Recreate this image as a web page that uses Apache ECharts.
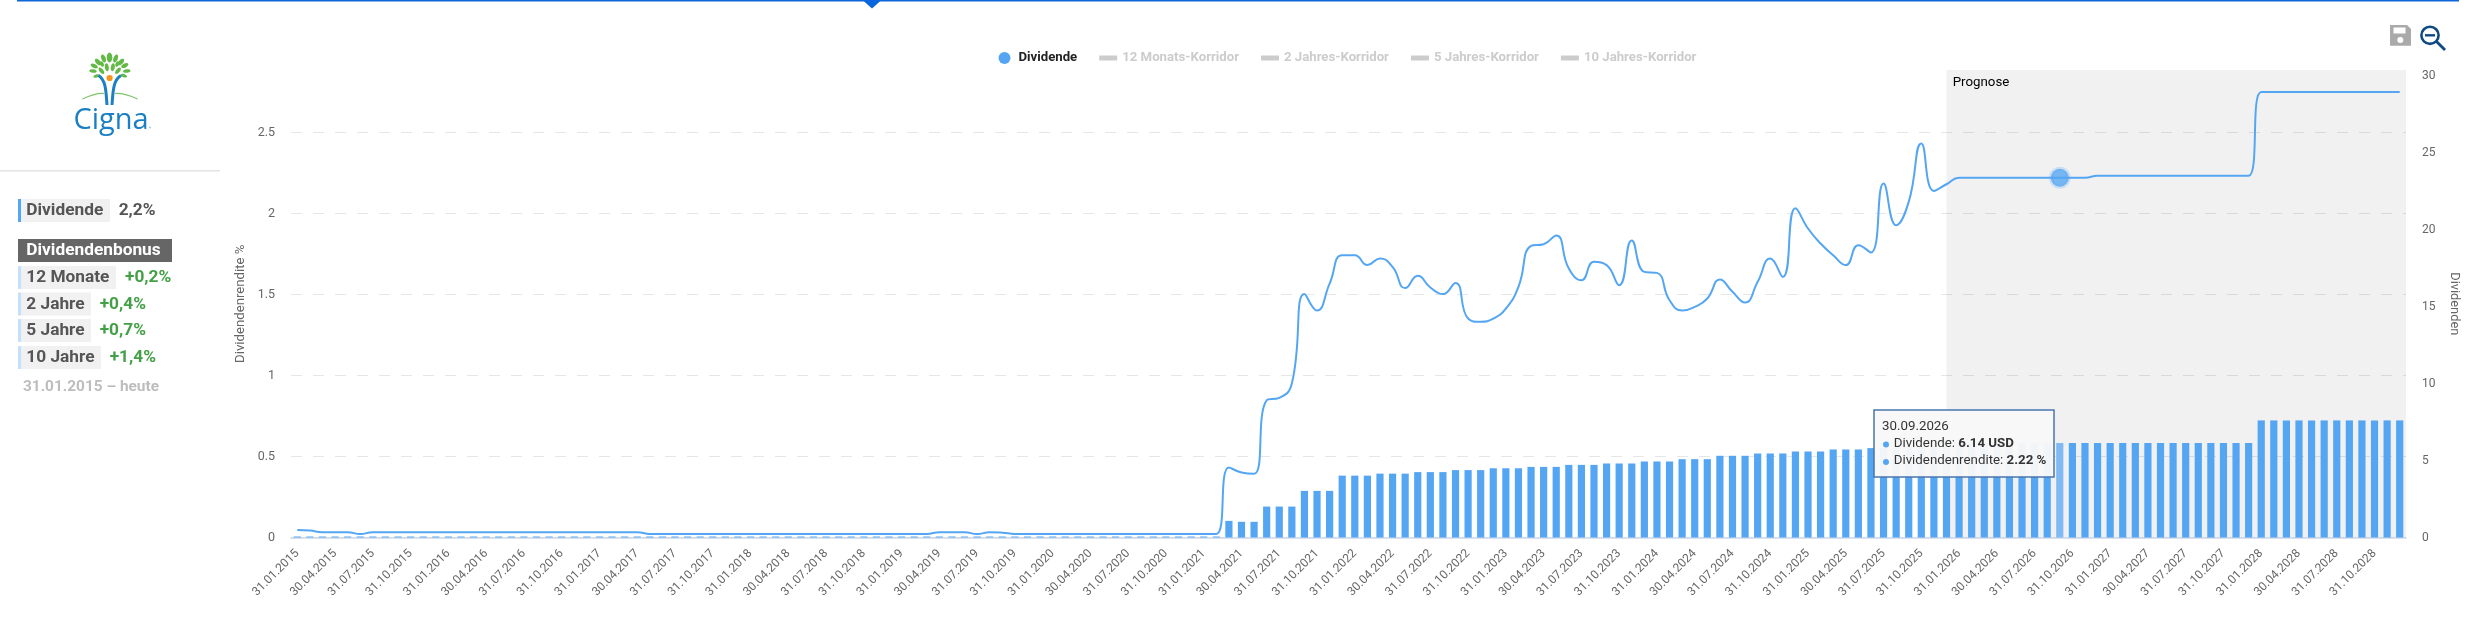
<!DOCTYPE html>
<html lang="de">
<head>
<meta charset="utf-8">
<title>Cigna Dividende</title>
<script src="https://cdn.jsdelivr.net/npm/echarts@6/dist/echarts.min.js"></script>
<style>html,body{margin:0;padding:0;background:#fff}#chart{width:2471px;height:623px}</style>
</head>
<body>
<div id="chart"></div>
<script>
const categories = [
'31.01.2015','28.02.2015','31.03.2015','30.04.2015','31.05.2015','30.06.2015','31.07.2015','31.08.2015','30.09.2015','31.10.2015','30.11.2015','31.12.2015',
'31.01.2016','29.02.2016','31.03.2016','30.04.2016','31.05.2016','30.06.2016','31.07.2016','31.08.2016','30.09.2016','31.10.2016','30.11.2016','31.12.2016',
'31.01.2017','28.02.2017','31.03.2017','30.04.2017','31.05.2017','30.06.2017','31.07.2017','31.08.2017','30.09.2017','31.10.2017','30.11.2017','31.12.2017',
'31.01.2018','28.02.2018','31.03.2018','30.04.2018','31.05.2018','30.06.2018','31.07.2018','31.08.2018','30.09.2018','31.10.2018','30.11.2018','31.12.2018',
'31.01.2019','28.02.2019','31.03.2019','30.04.2019','31.05.2019','30.06.2019','31.07.2019','31.08.2019','30.09.2019','31.10.2019','30.11.2019','31.12.2019',
'31.01.2020','29.02.2020','31.03.2020','30.04.2020','31.05.2020','30.06.2020','31.07.2020','31.08.2020','30.09.2020','31.10.2020','30.11.2020','31.12.2020',
'31.01.2021','28.02.2021','31.03.2021','30.04.2021','31.05.2021','30.06.2021','31.07.2021','31.08.2021','30.09.2021','31.10.2021','30.11.2021','31.12.2021',
'31.01.2022','28.02.2022','31.03.2022','30.04.2022','31.05.2022','30.06.2022','31.07.2022','31.08.2022','30.09.2022','31.10.2022','30.11.2022','31.12.2022',
'31.01.2023','28.02.2023','31.03.2023','30.04.2023','31.05.2023','30.06.2023','31.07.2023','31.08.2023','30.09.2023','31.10.2023','30.11.2023','31.12.2023',
'31.01.2024','29.02.2024','31.03.2024','30.04.2024','31.05.2024','30.06.2024','31.07.2024','31.08.2024','30.09.2024','31.10.2024','30.11.2024','31.12.2024',
'31.01.2025','28.02.2025','31.03.2025','30.04.2025','31.05.2025','30.06.2025','31.07.2025','31.08.2025','30.09.2025','31.10.2025','30.11.2025','31.12.2025',
'31.01.2026','28.02.2026','31.03.2026','30.04.2026','31.05.2026','30.06.2026','31.07.2026','31.08.2026','30.09.2026','31.10.2026','30.11.2026','31.12.2026',
'31.01.2027','28.02.2027','31.03.2027','30.04.2027','31.05.2027','30.06.2027','31.07.2027','31.08.2027','30.09.2027','31.10.2027','30.11.2027','31.12.2027',
'31.01.2028','29.02.2028','31.03.2028','30.04.2028','31.05.2028','30.06.2028','31.07.2028','31.08.2028','30.09.2028','31.10.2028','30.11.2028','31.12.2028'
];
// Dividend per share in USD (bars, right axis)
const dividends = [
.04,.04,.04,.04,.04,.04,.04,.04,.04,.04,.04,.04,
.04,.04,.04,.04,.04,.04,.04,.04,.04,.04,.04,.04,
.04,.04,.04,.04,.04,.04,.04,.04,.04,.04,.04,.04,
.04,.04,.04,.04,.04,.04,.04,.04,.04,.04,.04,.04,
.04,.04,.04,.04,.04,.04,.04,.04,.04,.04,.04,.04,
.04,.04,.04,.04,.04,.04,.04,.04,.04,.04,.04,.04,
.04,.04,1.08,1.02,1.02,2.01,2.01,2.01,3.03,3.03,3.03,4.02,
4.02,4.02,4.15,4.15,4.15,4.25,4.25,4.25,4.38,4.38,4.38,4.5,
4.5,4.5,4.59,4.59,4.59,4.72,4.72,4.72,4.81,4.81,4.81,4.94,
4.94,4.94,5.09,5.09,5.09,5.31,5.31,5.31,5.46,5.46,5.46,5.59,
5.59,5.59,5.72,5.72,5.72,5.81,5.81,5.81,5.95,5.95,5.95,6.14,
6.14,6.14,6.14,6.14,6.14,6.14,6.14,6.14,6.14,6.14,6.14,6.14,
6.14,6.14,6.14,6.14,6.14,6.14,6.14,6.14,6.14,6.14,6.14,6.14,
7.61,7.61,7.61,7.61,7.61,7.61,7.61,7.61,7.61,7.61,7.61,7.61
];
// Dividend yield in percent (line, left axis)
const yields = [
.046,.043,.033,.033,.033,.021,.033,.033,.033,.033,.033,.033,
.033,.033,.033,.033,.033,.033,.033,.033,.033,.033,.033,.033,
.033,.033,.033,.033,.022,.022,.022,.022,.022,.022,.022,.022,
.022,.022,.022,.022,.022,.022,.022,.022,.022,.022,.022,.022,
.022,.022,.022,.033,.033,.033,.021,.033,.03,.022,.022,.022,
.022,.022,.022,.022,.022,.022,.022,.022,.022,.022,.022,.022,
.022,.022,.432,.401,.393,.847,.862,.95,1.502,1.401,1.567,1.742,
1.742,1.681,1.722,1.67,1.539,1.615,1.543,1.502,1.571,1.351,1.331,1.351,
1.413,1.547,1.8,1.81,1.864,1.66,1.588,1.701,1.681,1.557,1.833,1.639,
1.633,1.464,1.401,1.423,1.475,1.592,1.516,1.45,1.578,1.722,1.608,2.032,
1.907,1.814,1.742,1.681,1.804,1.759,2.185,1.927,2.071,2.432,2.139,2.18,
2.22,2.22,2.22,2.22,2.22,2.22,2.22,2.22,2.22,2.22,2.22,2.232,
2.232,2.232,2.232,2.232,2.232,2.232,2.232,2.232,2.232,2.232,2.232,2.232,
2.75,2.75,2.75,2.75,2.75,2.75,2.75,2.75,2.75,2.75,2.75,2.75
];
const corridorNames = ['12 Monats-Korridor','2 Jahres-Korridor','5 Jahres-Korridor','10 Jahres-Korridor'];
const hoverIndex = 140;
const forecastStart = 131;
const yieldMax = 2.885;
const bonusRows = [
  ['12 Monate','+0,2%',266,116,125],
  ['2 Jahre','+0,4%',292.5,91,99.7],
  ['5 Jahre','+0,7%',319,91,99.7],
  ['10 Jahre','+1,4%',346,101,109.7]
];
const leaves = [
 [109.5,57.5,2.8,5,0],[103.5,58.5,2.2,4.2,.35],[115.6,58.5,2.2,4.2,-.35],[98,62,2.2,4,.75],[121,62,2.2,4,-.75],
 [94.2,66,2,3.9,1.1],[124.8,65.6,2,3.9,-1.1],[93,71,1.8,3.8,1.45],[126.8,71,1.8,3.8,-1.45],[96.5,76,1.6,3.3,1.9],[124,75.7,1.6,3.3,-1.9],
 [106.8,67.2,2,4,.15],[112.8,67.2,2,4,-.15],[101.4,70.8,1.9,3.9,.7],[118,70.8,1.9,3.9,-.7],[102,64,1.7,3,.4],[117.2,64,1.7,3,-.4]
];
const BLUE = '#55a6f2', FONT = 'Roboto';

function txt(t,x,y,font,fill,extra){
  return Object.assign({type:'text',x:x,y:y,z:100,silent:true,style:Object.assign({text:t,font:font,fill:fill,verticalAlign:'middle',textVerticalAlign:'middle'},extra||{})});
}
function rect(x,y,w,h,fill,z){return {type:'rect',z:z||90,silent:true,shape:{x:x,y:y,width:w,height:h},style:{fill:fill}};}

const F16 = 'bold 17.3px Roboto';
const g = [];
// top rule with notch
g.push(rect(17,0,2442,1.5,'#0d67d9'));
g.push({type:'polygon',z:90,silent:true,shape:{points:[[862.5,0],[881.5,0],[872,8.5]]},style:{fill:'#0a66de'}});
// logo
leaves.forEach(l=>g.push({type:'ellipse',z:90,silent:true,x:l[0],y:l[1],rotation:l[4],shape:{cx:0,cy:0,rx:l[2],ry:l[3]},style:{fill:'#63b946'}}));
g.push({type:'bezierCurve',z:90,silent:true,shape:{x1:82.5,y1:99,x2:104,y2:93.5,cpx1:91,cpy1:95,cpx2:98,cpy2:93},style:{stroke:'#7cc46a',lineWidth:1.2,fill:'none'}});
g.push({type:'bezierCurve',z:90,silent:true,shape:{x1:137.5,y1:99,x2:115,y2:93.5,cpx1:129,cpy1:95,cpx2:122,cpy2:93},style:{stroke:'#7cc46a',lineWidth:1.2,fill:'none'}});
g.push({type:'bezierCurve',z:91,silent:true,shape:{x1:98.5,y1:75.5,x2:107,y2:105,cpx1:106,cpy1:80,cpx2:106,cpy2:92},style:{stroke:'#1b80c4',lineWidth:3,fill:'none'}});
g.push({type:'bezierCurve',z:91,silent:true,shape:{x1:121,y1:75.5,x2:112,y2:105,cpx1:113,cpy1:80,cpx2:113,cpy2:92},style:{stroke:'#1b80c4',lineWidth:3,fill:'none'}});
g.push({type:'circle',z:92,silent:true,shape:{cx:109.6,cy:78,r:3.1},style:{fill:'#f7941d'}});
g.push(txt('Cigna',73.5,121,'500 29px "Open Sans"','#1a7fc4'));
g.push({type:'circle',z:92,silent:true,shape:{cx:150,cy:127.5,r:.9},style:{fill:'#8cc4e6'}});
// side panel
g.push(rect(0,170,220,1.6,'#e4e4e4'));
g.push(rect(21,199,89,23,'#f1f1f1'));
g.push(rect(18,199,3,23,BLUE));
g.push(txt('Dividende',26.3,211,F16,'#555'));
g.push(txt('2,2%',118.7,211,F16,'#555'));
g.push(rect(18,239,154,23,'#666'));
g.push(txt('Dividendenbonus',26.3,251,F16,'#fff'));
bonusRows.forEach(r=>{
  g.push(rect(21,r[2],r[3]-21,23,'#f1f1f1'));
  g.push(rect(18,r[2],3,23,'#c5e0fc'));
  g.push(txt(r[0],26.3,r[2]+11.8,F16,'#555'));
  g.push(txt(r[1],r[4],r[2]+11.8,F16,'#43a047'));
});
g.push(txt('31.01.2015 \u2013 heute',23,387,'bold 15.4px Roboto','#bdbdbd'));
// toolbar icons
g.push({type:'polygon',z:90,silent:true,shape:{points:[[2390,25],[2407,25],[2411,29],[2411,45.7],[2390,45.7]]},style:{fill:'#aaaaaa'}});
g.push(rect(2393.5,27.5,12,6,'#fff'));
g.push({type:'circle',z:91,silent:true,shape:{cx:2400.3,cy:40,r:3},style:{fill:'#fff'}});
g.push({type:'circle',z:90,silent:true,shape:{cx:2430,cy:35.3,r:8.6},style:{stroke:'#0f4a85',lineWidth:2.6,fill:'none'}});
g.push({type:'line',z:90,silent:true,shape:{x1:2425,y1:35.3,x2:2435,y2:35.3},style:{stroke:'#0f4a85',lineWidth:2.4}});
g.push({type:'line',z:90,silent:true,shape:{x1:2436.5,y1:41.5,x2:2445,y2:50},style:{stroke:'#0f4a85',lineWidth:2.8}});
// hover tooltip box
g.push({type:'rect',z:110,silent:true,shape:{x:1874,y:410,width:180,height:67},style:{fill:'rgba(248,248,248,0.97)',stroke:'#4a75ad',lineWidth:1.5}});
g.push(Object.assign(txt(categories[hoverIndex],1882,427,'13.3px Roboto','#333',{}),{z:111}));
g.push({type:'circle',z:111,silent:true,shape:{cx:1886,cy:444.5,r:3},style:{fill:BLUE}});
g.push({type:'circle',z:111,silent:true,shape:{cx:1886,cy:462,r:3},style:{fill:BLUE}});
g.push({type:'text',z:111,silent:true,x:1893.7,y:444,style:{text:'Dividende: {b|'+dividends[hoverIndex].toFixed(2)+' USD}',font:'13.3px Roboto',fill:'#333',verticalAlign:'middle',textVerticalAlign:'middle',rich:{b:{fill:'#333',fontWeight:'bold',fontSize:13.3,fontFamily:FONT}}}});
g.push({type:'text',z:111,silent:true,x:1893.7,y:461,style:{text:'Dividendenrendite: {b|'+yields[hoverIndex].toFixed(2)+' %}',font:'13.3px Roboto',fill:'#333',verticalAlign:'middle',textVerticalAlign:'middle',rich:{b:{fill:'#333',fontWeight:'bold',fontSize:13.3,fontFamily:FONT}}}});

const rectIcon = 'path://M0,0 L0,0 M0,3.5 L18,3.5 L18,8.5 L0,8.5 Z M0,12 L0,12';

const chart = echarts.init(document.getElementById('chart'));
chart.setOption({
  animation:false,
  textStyle:{fontFamily:FONT},
  grid:{left:291,right:65,top:70,bottom:85.5,containLabel:false},
  legend:{
    left:998.5,top:51.5,padding:0,itemWidth:18,itemHeight:12,itemGap:22,itemTextGap:5,
    inactiveColor:'#cccccc',
    textStyle:{fontFamily:FONT,fontSize:13.2,fontWeight:'bold',color:'#222'},
    selected:Object.fromEntries(corridorNames.map(n=>[n,false])),
    data:[{name:'Dividende',icon:'circle'}].concat(corridorNames.map(n=>({name:n,icon:rectIcon})))
  },
  xAxis:{
    type:'category',data:categories,boundaryGap:true,
    axisLine:{lineStyle:{color:'#ccd6eb',width:1.5}},axisTick:{show:false},
    axisLabel:{interval:2,rotate:45,fontSize:12,color:'#666',margin:14,hideOverlap:false}
  },
  yAxis:[
    {type:'value',min:0,max:yieldMax,interval:0.5,position:'left',
     name:'Dividendenrendite %',nameLocation:'middle',nameGap:39,nameRotate:90,
     nameTextStyle:{fontSize:13.2,color:'#666'},
     axisLine:{show:false},axisTick:{show:false},
     axisLabel:{showMaxLabel:false,fontSize:12.5,color:'#666',margin:16,padding:[2,0,0,0]},
     splitLine:{showMaxLine:false,lineStyle:{color:'#e6e6e6',width:1,type:[11,11]}}},
    {type:'value',min:0,max:30.38,interval:5,position:'right',
     name:'Dividenden',nameLocation:'middle',nameGap:42,nameRotate:-90,
     nameTextStyle:{fontSize:12.8,color:'#666'},
     axisLine:{show:false},axisTick:{show:false},
     axisLabel:{showMaxLabel:false,fontSize:12,color:'#666',margin:16,padding:[2,0,0,0]},
     splitLine:{show:false}}
  ],
  series:[
    {name:'Dividende',type:'bar',yAxisIndex:1,z:2,barWidth:7.2,barMinHeight:1,
     itemStyle:{color:BLUE},
     data:dividends.map((v,i)=>i===hoverIndex?{value:v,itemStyle:{color:'#7fbaf5'}}:v)},
    {name:'Dividendenrendite',type:'line',yAxisIndex:0,z:3,smooth:0.5,showSymbol:false,
     lineStyle:{color:BLUE,width:2},itemStyle:{color:BLUE},data:yields},
    {name:'Aktiver Punkt',type:'scatter',yAxisIndex:0,z:4,symbolSize:18,
     itemStyle:{color:BLUE,borderColor:'rgba(85,166,242,0.3)',borderWidth:4},
     data:[[categories[hoverIndex],yields[hoverIndex]]]}
  ].concat(corridorNames.map(n=>({name:n,type:'line',yAxisIndex:0,data:[],itemStyle:{color:'#ccc'}})))
});
// Forecast band: its edges come from the library's scales
const px = c => chart.convertToPixel({xAxisIndex:0},c);
const bandLeft = px(categories[forecastStart]);
const lastPx = px(categories[categories.length-1]);
const bandRight = lastPx + (lastPx - px(categories[categories.length-2]))/2;
const bandTop = chart.convertToPixel({yAxisIndex:0},yieldMax);
const bandBottom = chart.convertToPixel({yAxisIndex:0},0);
g.push({type:'rect',z:1,silent:true,shape:{x:bandLeft,y:bandTop,width:bandRight-bandLeft,height:bandBottom-bandTop},style:{fill:'rgba(0,0,0,0.055)'}});
g.push(txt('Prognose',bandLeft+6.2,bandTop+12.8,'13.3px Roboto','#000'));
chart.setOption({graphic:{elements:g}});
</script>
</body>
</html>
